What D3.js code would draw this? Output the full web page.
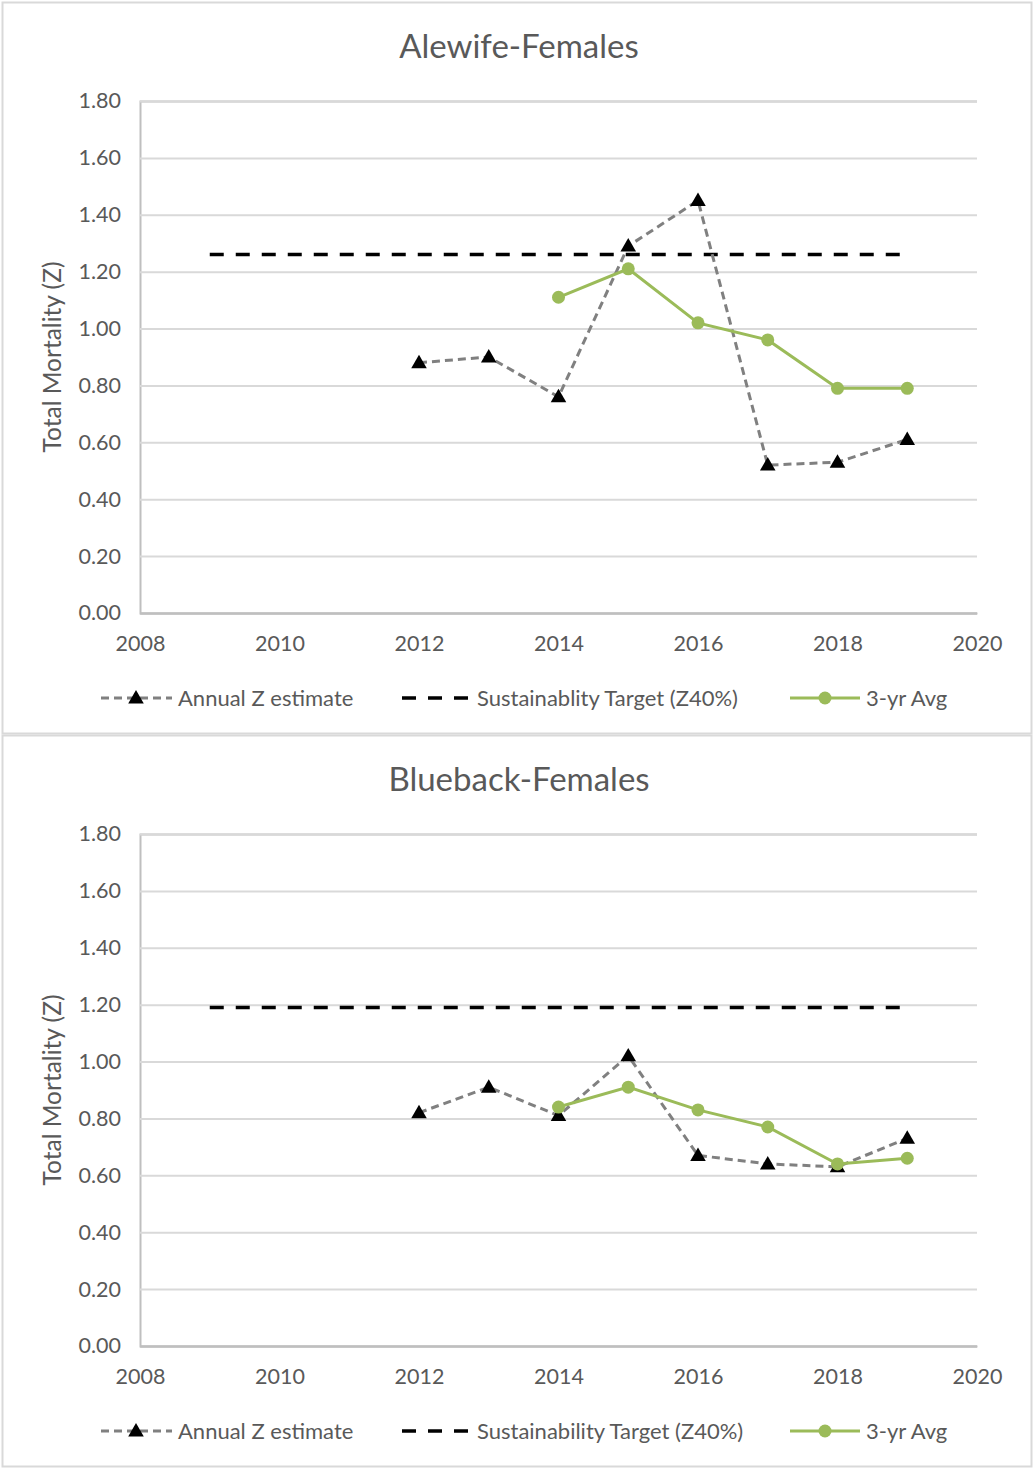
<!DOCTYPE html>
<html>
<head>
<meta charset="utf-8">
<script src="https://cdn.jsdelivr.net/npm/d3@7"></script>
<style>
  body { margin: 0; background: #fff; }
  text { font-family: Lato, "Open Sans", sans-serif; fill: #595959; }
</style>
</head>
<body>
<div id="chart"></div>
<script>
// ---------------------------------------------------
// data
// ---------------------------------------------------
var years = [2012, 2013, 2014, 2015, 2016, 2017, 2018, 2019]
var avgYears = [2014, 2015, 2016, 2017, 2018, 2019]
var targetYears = [2009, 2019]
var yTicks = [0, 0.2, 0.4, 0.6, 0.8, 1.0, 1.2, 1.4, 1.6, 1.8]
var xTicks = [2008, 2010, 2012, 2014, 2016, 2018, 2020]

var alewifeAnnual = [0.88, 0.90, 0.76, 1.29, 1.45, 0.52, 0.53, 0.61]
var alewifeAvg = [1.11, 1.21, 1.02, 0.96, 0.79, 0.79]
var alewifeTarget = 1.26

var bluebackAnnual = [0.82, 0.91, 0.81, 1.02, 0.67, 0.64, 0.63, 0.73]
var bluebackAvg = [0.84, 0.91, 0.83, 0.77, 0.64, 0.66]
var bluebackTarget = 1.19

var panelTitles = ["Alewife-Females", "Blueback-Females"]
var legendNames = [
    ["Annual Z estimate", "Sustainablity Target (Z40%)", "3-yr Avg"],
    ["Annual Z estimate", "Sustainability Target (Z40%)", "3-yr Avg"]
]

var W = 1034, H = 1471
var gridColor = "#d9d9d9", axisColor = "#bfbfbf"
var grayLine = "#808080", green = "#9bbb59"

var svg = d3.select("#chart").append("svg")
    .attr("width", W).attr("height", H)

var x = d3.scaleLinear().domain([2008, 2020]).range([140, 977])
var y = d3.scaleLinear().domain([0, 1.8]).range([613, 101])

var triangle = d3.symbol().type(d3.symbolTriangle).size(105)

function drawPanel(top, title, annual, avg, target, names) {
    var g = svg.append("g").attr("transform", "translate(0," + top + ")")

    // panel frame
    g.append("rect")
        .attr("x", 2.5).attr("y", 2.5)
        .attr("width", 1029).attr("height", 731)
        .attr("fill", "none").attr("stroke", gridColor).attr("stroke-width", 2)

    g.append("text")
        .attr("x", 519).attr("y", 58)
        .attr("text-anchor", "middle")
        .style("font-size", "33px")
        .text(title)

    // grid + y axis
    var yAxis = d3.axisLeft(y).tickValues(yTicks).tickSize(-(x.range()[1] - x.range()[0]))
        .tickFormat(d3.format(".2f")).tickPadding(19)
    var ya = g.append("g").attr("transform", "translate(" + x.range()[0] + ",0)").call(yAxis)
    ya.select(".domain").attr("stroke", axisColor).attr("stroke-width", 2)
    ya.selectAll(".tick line").attr("stroke", gridColor).attr("stroke-width", 2)
        .filter(d => d === 0).attr("stroke", axisColor)
    ya.selectAll(".tick text").style("font-size", "21.5px").attr("fill", "#595959")

    var xAxis = d3.axisBottom(x).tickValues(xTicks).tickSize(0).tickFormat(d3.format("d")).tickPadding(23)
    var xa = g.append("g").attr("transform", "translate(0," + y(0) + ")").call(xAxis)
    xa.select(".domain").attr("stroke", axisColor).attr("stroke-width", 2)
    xa.selectAll(".tick text").style("font-size", "21.5px").attr("fill", "#595959")

    g.append("text")
        .attr("transform", "translate(61," + ((y(0) + y(1.8)) / 2) + ") rotate(-90)")
        .attr("text-anchor", "middle")
        .style("font-size", "24.5px")
        .text("Total Mortality (Z)")

    // target line
    g.append("path")
        .datum(targetYears)
        .attr("d", d3.line().x(d => x(d)).y(() => y(target)))
        .attr("fill", "none").attr("stroke", "#000").attr("stroke-width", 3.5)
        .attr("stroke-dasharray", "14,12")

    // annual series
    var pts = years.map((d, i) => [d, annual[i]])
    g.append("path")
        .datum(pts)
        .attr("d", d3.line().x(d => x(d[0])).y(d => y(d[1])))
        .attr("fill", "none").attr("stroke", grayLine).attr("stroke-width", 3)
        .attr("stroke-dasharray", "8,5")

    // 3-yr avg
    var apts = avgYears.map((d, i) => [d, avg[i]])
    g.append("path")
        .datum(apts)
        .attr("d", d3.line().x(d => x(d[0])).y(d => y(d[1])))
        .attr("fill", "none").attr("stroke", green).attr("stroke-width", 3)

    g.selectAll(".tri").data(pts).enter().append("path")
        .attr("d", triangle)
        .attr("transform", d => "translate(" + x(d[0]) + "," + (y(d[1]) + 1) + ")")
        .attr("fill", "#000")

    g.selectAll(".dot").data(apts).enter().append("circle")
        .attr("cx", d => x(d[0])).attr("cy", d => y(d[1])).attr("r", 6.5)
        .attr("fill", green)

    // legend
    var ly = 698
    var lg = g.append("g")
    lg.append("line").attr("x1", 101).attr("x2", 172).attr("y1", ly).attr("y2", ly)
        .attr("stroke", grayLine).attr("stroke-width", 3).attr("stroke-dasharray", "8,5")
    lg.append("path").attr("d", triangle).attr("transform", "translate(136," + (ly + 1) + ")")
    lg.append("line").attr("x1", 401).attr("x2", 470).attr("y1", ly).attr("y2", ly)
        .attr("stroke", "#000").attr("stroke-width", 3.5).attr("stroke-dasharray", "14,12")
        .attr("stroke-dashoffset", -1)
    lg.append("line").attr("x1", 790).attr("x2", 860).attr("y1", ly).attr("y2", ly)
        .attr("stroke", green).attr("stroke-width", 3)
    lg.append("circle").attr("cx", 825).attr("cy", ly).attr("r", 6.5).attr("fill", green)

    var lx = [178, 477, 866]
    names.forEach((n, i) => {
        lg.append("text").attr("x", lx[i]).attr("y", ly + 8)
            .style("font-size", "22px").text(n)
    })
}

drawPanel(0, panelTitles[0], alewifeAnnual, alewifeAvg, alewifeTarget, legendNames[0])
drawPanel(733, panelTitles[1], bluebackAnnual, bluebackAvg, bluebackTarget, legendNames[1])
</script>
</body>
</html>
